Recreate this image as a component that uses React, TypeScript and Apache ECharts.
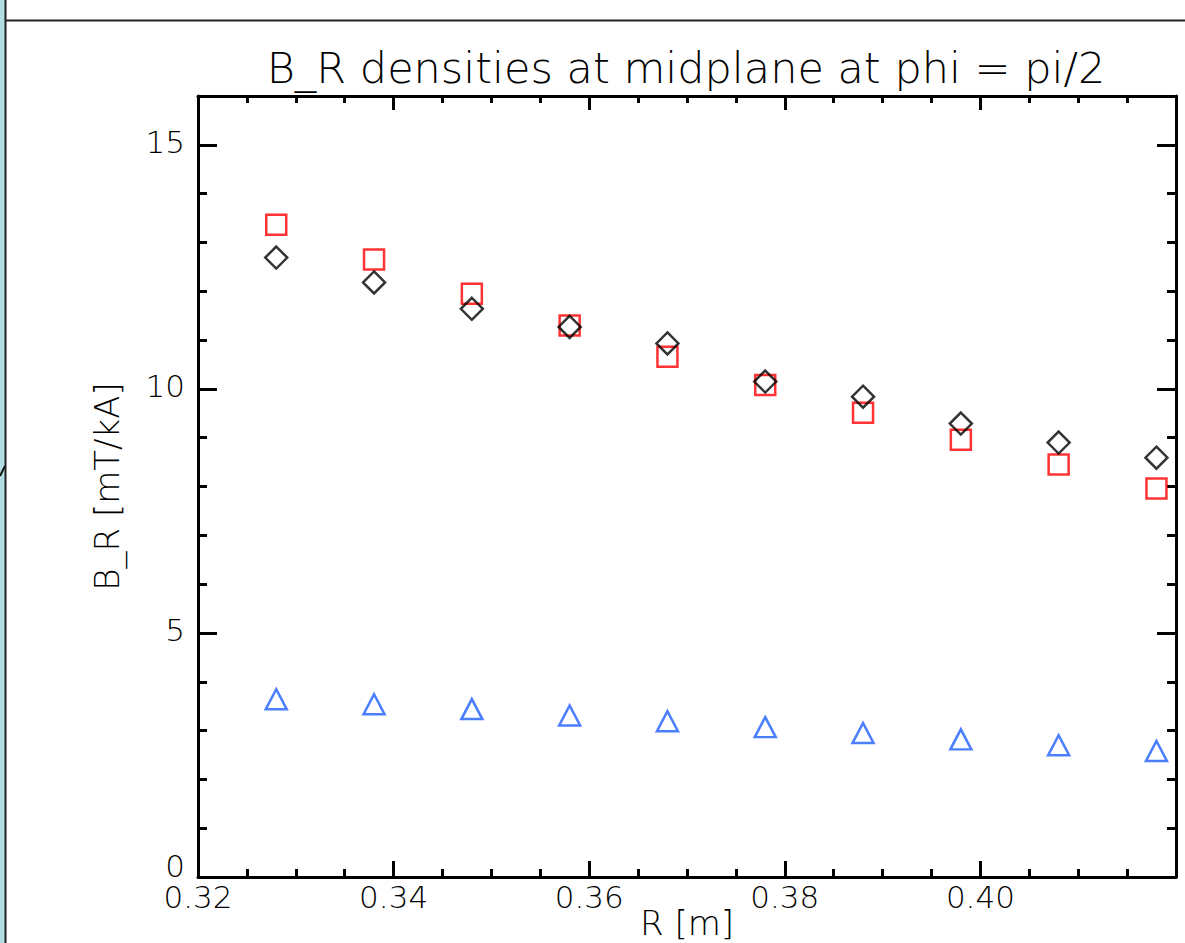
import React, { useEffect, useRef } from "react";
import * as echarts from "echarts";

const R = [0.328, 0.338, 0.348, 0.358, 0.368, 0.378, 0.388, 0.398, 0.408, 0.418];
const blackDiamonds = [12.69, 12.18, 11.64, 11.27, 10.93, 10.15, 9.84, 9.29, 8.9, 8.59];
const redSquares = [13.36, 12.65, 11.95, 11.3, 10.66, 10.08, 9.51, 8.96, 8.45, 7.96];
const blueTriangles = [3.64, 3.54, 3.44, 3.31, 3.19, 3.07, 2.95, 2.82, 2.7, 2.58];

const TITLE = "B_R densities at midplane at phi = pi/2";
const X_NAME = "R [m]";
const Y_NAME = "B_R [mT/kA]";

const FONT = "DejaVu Sans";

export default function App() {
  const ref = useRef<HTMLDivElement>(null);
  useEffect(() => {
    document.body.style.margin = "0";
    const chart = echarts.init(ref.current!, null, { renderer: "svg" });
    const axisLine = { show: true, onZero: false, lineStyle: { color: "#000", width: 3 } };
    const xBase = { type: "value", min: 0.32, max: 0.42, interval: 0.02, splitLine: { show: false } };
    const yBase = { type: "value", min: 0, max: 16, splitLine: { show: false } };
    const labelText = { color: "#000", fontFamily: FONT, fontWeight: 200, fontSize: 31 };
    chart.setOption({
      animation: false,
      backgroundColor: "#fff",
      grid: { left: 198, top: 96, width: 978, height: 781, containLabel: false, outerBoundsMode: "none" },
      xAxis: [
        {
          ...xBase,
          position: "bottom",
          axisLine,
          axisTick: { show: true, inside: true, length: 16, lineStyle: { color: "#000", width: 3 } },
          minorTick: { show: true, splitNumber: 4, length: 8, lineStyle: { color: "#000", width: 3 } },
          axisLabel: {
            show: true,
            margin: 4,
            ...labelText,
            showMaxLabel: false,
            formatter: (v: number) => v.toFixed(2),
          },
          name: X_NAME,
          nameLocation: "middle",
          nameGap: 29,
          nameMoveOverlap: false,
          nameTextStyle: { color: "#000", fontFamily: FONT, fontWeight: 200, fontSize: 34 },
        },
        {
          ...xBase,
          position: "top",
          axisLine,
          axisTick: { show: true, inside: true, length: 14, lineStyle: { color: "#000", width: 3 } },
          minorTick: { show: true, splitNumber: 4, length: 7, lineStyle: { color: "#000", width: 3 } },
          axisLabel: { show: false },
        },
      ],
      yAxis: [
        {
          ...yBase,
          interval: 5,
          position: "left",
          axisLine,
          axisTick: { show: true, inside: true, length: 19, lineStyle: { color: "#000", width: 3 } },
          axisLabel: {
            show: true,
            margin: 13,
            ...labelText,
            showMaxLabel: false,
            formatter: (v: number) => (v === 0 ? "{z|0}" : "{n|" + v + "}"),
            rich: {
              z: { ...labelText, padding: [0, 0, 22, 0] },
              n: { ...labelText, padding: [0, 0, 5, 0] },
            },
          },
          name: Y_NAME,
          nameLocation: "middle",
          nameGap: 74,
          nameTextStyle: { color: "#000", fontFamily: FONT, fontWeight: 200, fontSize: 34 },
        },
        {
          ...yBase,
          interval: 1,
          position: "left",
          axisLine: { show: false },
          axisTick: { show: true, inside: true, length: 9, lineStyle: { color: "#000", width: 3 } },
          axisLabel: { show: false },
        },
        {
          ...yBase,
          interval: 5,
          position: "right",
          axisLine,
          axisTick: { show: true, inside: true, length: 19, lineStyle: { color: "#000", width: 3 } },
          axisLabel: { show: false },
        },
        {
          ...yBase,
          interval: 1,
          position: "right",
          axisLine: { show: false },
          axisTick: { show: true, inside: true, length: 9, lineStyle: { color: "#000", width: 3 } },
          axisLabel: { show: false },
        },
      ],
      graphic: [
        { type: "rect", shape: { x: 0, y: 0, width: 5, height: 943 }, style: { fill: "#b3dde4" }, silent: true },
        { type: "line", shape: { x1: 5.5, y1: 0, x2: 5.5, y2: 943 }, style: { stroke: "#222", lineWidth: 2 }, silent: true },
        { type: "line", shape: { x1: 5, y1: 20.5, x2: 1185, y2: 20.5 }, style: { stroke: "#222", lineWidth: 2 }, silent: true },
        { type: "line", shape: { x1: 0, y1: 476, x2: 5, y2: 466 }, style: { stroke: "#111", lineWidth: 2 }, silent: true },
        {
          type: "text",
          x: 686,
          y: 68,
          style: {
            text: TITLE,
            fill: "#000",
            fontFamily: FONT,
            fontWeight: 200,
            fontSize: 43,
            textAlign: "center",
            textVerticalAlign: "middle",
          },
          silent: true,
        },
      ],
      series: [
        {
          type: "scatter",
          name: "blue",
          data: R.map((r, i) => [r, blueTriangles[i]]),
          symbol: "triangle",
          symbolSize: [21, 20],
          itemStyle: { color: "rgba(0,0,0,0)", borderColor: "#1f5fff", borderWidth: 2.5 },
        },
        {
          type: "scatter",
          name: "red",
          data: R.map((r, i) => [r, redSquares[i]]),
          symbol: "rect",
          symbolSize: 20,
          itemStyle: { color: "rgba(0,0,0,0)", borderColor: "#ff0000", borderWidth: 2.5 },
        },
        {
          type: "scatter",
          name: "black",
          data: R.map((r, i) => [r, blackDiamonds[i]]),
          symbol: "diamond",
          symbolSize: 22,
          itemStyle: { color: "rgba(0,0,0,0)", borderColor: "#000", borderWidth: 2.5 },
        },
      ],
    });
    return () => chart.dispose();
  }, []);
  return <div ref={ref} style={{ width: 1185, height: 943 }} />;
}
